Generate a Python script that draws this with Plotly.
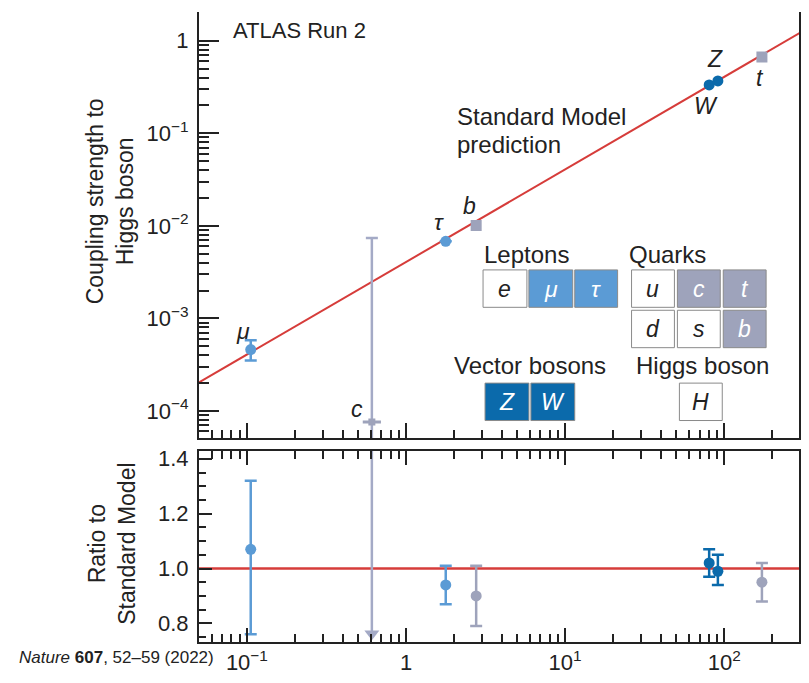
import plotly.graph_objects as go
import numpy as np

# ---------------- data ----------------
lepton_names = ["μ", "τ"]
lepton_mass = [0.1057, 1.777]
lepton_coupling = [4.6e-4, 6.8e-3]
lepton_coupling_up = [1.2e-4, 0.0]
lepton_coupling_dn = [1.1e-4, 0.0]
lepton_ratio = [1.07, 0.94]
lepton_ratio_up = [0.25, 0.07]
lepton_ratio_dn = [0.31, 0.07]

quark_names = ["b", "t"]
quark_mass = [2.76, 172.5]
quark_coupling = [1.01e-2, 0.665]
quark_ratio = [0.90, 0.95]
quark_ratio_up = [0.11, 0.07]
quark_ratio_dn = [0.11, 0.07]

charm_mass = [0.61]
charm_coupling = [7.6e-5]
charm_coupling_upper = [7.4e-3]
charm_coupling_lower = [1e-6]      # off scale
charm_ratio_top = [1.6]            # off scale
charm_ratio_arrow = [0.762]

boson_names = ["W", "Z"]
boson_mass = [80.4, 91.19]
boson_coupling = [0.333, 0.368]
boson_ratio = [1.02, 0.99]
boson_ratio_up = [0.05, 0.06]
boson_ratio_dn = [0.05, 0.05]

sm_mass = [0.05, 300.0]
vev = 246.0

x_tickvals = [0.1, 1, 10, 100]
x_ticktext = ["10<sup>−1</sup>", "1", "10<sup>1</sup>", "10<sup>2</sup>"]
y_tickvals = [1e-4, 1e-3, 1e-2, 1e-1, 1]
y_ticktext = ["10<sup>−4</sup>", "10<sup>−3</sup>", "10<sup>−2</sup>", "10<sup>−1</sup>", "1"]
r_tickvals = [0.8, 1.0, 1.2, 1.4]
r_ticktext = ["0.8", "1.0", "1.2", "1.4"]

# ---------------- styles ----------------
C_LIGHT = "#5b9bd5"
C_DARK = "#0b6aab"
C_GREY = "#9ea3bb"
C_CLINE = "#a4aac6"
C_RED = "#d63c3a"
C_AX = "#222222"
FONT = "Liberation Sans"

W, H = 809, 683
ML, MR, MT, MB = 199, 8, 8, 35
PW, PH = W - ML - MR, H - MT - MB


def px(x):
    return (x - ML) / PW


def py(y):
    return (H - MB - y) / PH


fig = go.Figure()

# SM line (top)
sm_coupling = [m / vev for m in sm_mass]
fig.add_trace(go.Scatter(x=sm_mass, y=sm_coupling, mode="lines",
                         line=dict(color=C_RED, width=2), xaxis="x", yaxis="y",
                         hoverinfo="skip"))

# charm (top)
fig.add_trace(go.Scatter(
    x=charm_mass, y=charm_coupling, mode="markers",
    marker=dict(symbol="square", size=7, color=C_GREY),
    error_y=dict(type="data", symmetric=False,
                 array=[charm_coupling_upper[0] - charm_coupling[0]],
                 arrayminus=[charm_coupling[0] - charm_coupling_lower[0]],
                 color=C_CLINE, thickness=2.5, width=6),
    xaxis="x", yaxis="y"))
fig.add_trace(go.Scatter(
    x=charm_mass, y=charm_coupling, mode="markers",
    marker=dict(symbol="line-ew", size=13, line=dict(color=C_GREY, width=3)),
    xaxis="x", yaxis="y"))

# leptons (top)
fig.add_trace(go.Scatter(
    x=lepton_mass, y=lepton_coupling, mode="markers",
    marker=dict(symbol="circle", size=11, color=C_LIGHT),
    error_y=dict(type="data", symmetric=False, array=lepton_coupling_up,
                 arrayminus=lepton_coupling_dn, color=C_LIGHT, thickness=2.5, width=6),
    xaxis="x", yaxis="y"))
# quarks (top)
fig.add_trace(go.Scatter(
    x=quark_mass, y=quark_coupling, mode="markers",
    marker=dict(symbol="square", size=11, color=C_GREY),
    xaxis="x", yaxis="y"))
# bosons (top)
fig.add_trace(go.Scatter(
    x=boson_mass, y=boson_coupling, mode="markers",
    marker=dict(symbol="circle", size=11, color=C_DARK),
    xaxis="x", yaxis="y"))

# ---------------- ratio panel ----------------
fig.add_trace(go.Scatter(
    x=charm_mass * 2, y=[charm_ratio_top[0], charm_ratio_arrow[0]], mode="lines",
    line=dict(color=C_CLINE, width=2.5), xaxis="x2", yaxis="y2"))
fig.add_trace(go.Scatter(
    x=charm_mass, y=charm_ratio_arrow, mode="markers",
    marker=dict(symbol="triangle-down", size=13, color=C_CLINE),
    xaxis="x2", yaxis="y2", cliponaxis=False))
fig.add_trace(go.Scatter(
    x=lepton_mass, y=lepton_ratio, mode="markers",
    marker=dict(symbol="circle", size=11, color=C_LIGHT),
    error_y=dict(type="data", symmetric=False, array=lepton_ratio_up,
                 arrayminus=lepton_ratio_dn, color=C_LIGHT, thickness=2.5, width=6),
    xaxis="x2", yaxis="y2"))
fig.add_trace(go.Scatter(
    x=quark_mass, y=quark_ratio, mode="markers",
    marker=dict(symbol="circle", size=11, color=C_GREY),
    error_y=dict(type="data", symmetric=False, array=quark_ratio_up,
                 arrayminus=quark_ratio_dn, color=C_GREY, thickness=2.5, width=6),
    xaxis="x2", yaxis="y2"))
fig.add_trace(go.Scatter(
    x=boson_mass, y=boson_ratio, mode="markers",
    marker=dict(symbol="circle", size=11, color=C_DARK),
    error_y=dict(type="data", symmetric=False, array=boson_ratio_up,
                 arrayminus=boson_ratio_dn, color=C_DARK, thickness=2.5, width=6),
    xaxis="x2", yaxis="y2"))

# ---------------- axes ----------------
xminor = [d * 10.0 ** e for e in range(-2, 3) for d in range(2, 10)]
yminor = [d * 10.0 ** e for e in range(-5, 1) for d in range(2, 10)]
rminor = [0.75, 0.85, 0.9, 0.95, 1.05, 1.1, 1.15, 1.25, 1.3, 1.35]

xrange_log = [np.log10(0.05), np.log10(295)]
yr_top = 0.3234

tickfont = dict(family=FONT, size=22, color=C_AX)
common_x = dict(type="log", range=xrange_log, showgrid=False, zeroline=False,
                showline=True, linecolor=C_AX, linewidth=2,
                tickmode="array", tickvals=x_tickvals, ticktext=x_ticktext,
                ticks="inside", ticklen=15, tickwidth=1.5, tickcolor=C_AX,
                minor=dict(tickmode="array", tickvals=xminor, ticks="inside",
                           ticklen=8, tickwidth=1.5, tickcolor=C_AX, showgrid=False),
                tickfont=tickfont)

fig.update_layout(
    width=W, height=H,
    margin=dict(l=ML, r=MR, t=MT, b=MB),
    paper_bgcolor="white", plot_bgcolor="white",
    showlegend=False,
    font=dict(family=FONT, color=C_AX),
    xaxis=dict(common_x, anchor="y", showticklabels=False),
    yaxis=dict(type="log", domain=[yr_top, 1], range=[-4.295, 0.31],
               anchor="x", showgrid=False, zeroline=False,
               showline=True, linecolor=C_AX, linewidth=2, mirror=True,
               tickmode="array", tickvals=y_tickvals, ticktext=y_ticktext,
               ticks="inside", ticklen=20, tickwidth=1.5, tickcolor=C_AX,
               minor=dict(tickmode="array", tickvals=yminor, ticks="inside",
                          ticklen=10, tickwidth=1.5, tickcolor=C_AX, showgrid=False),
               tickfont=tickfont, ticklabelstandoff=4),
    xaxis2=dict(common_x, anchor="y2", mirror="ticks", ticklen=14),
    yaxis2=dict(domain=[0, 0.303], range=[0.732, 1.428], anchor="x2",
                showgrid=False, zeroline=False,
                showline=True, linecolor=C_AX, linewidth=2, mirror=True,
                tickmode="array", tickvals=r_tickvals, ticktext=r_ticktext,
                ticks="inside", ticklen=13, tickwidth=1.5, tickcolor=C_AX,
                minor=dict(tickmode="array", tickvals=rminor, ticks="inside",
                           ticklen=7, tickwidth=1.5, tickcolor=C_AX, showgrid=False),
                tickfont=tickfont, ticklabelstandoff=4),
)

# SM line in ratio panel
fig.add_shape(type="line", xref="x2 domain", yref="y2", x0=0, x1=1, y0=1, y1=1,
              line=dict(color=C_RED, width=2.5), layer="below")

ann = []


def text(x, y, s, size=20, anchor="left", color=C_AX, angle=0, yanchor="middle"):
    ann.append(dict(x=px(x), y=py(y), xref="paper", yref="paper", text=s,
                    showarrow=False, xanchor=anchor, yanchor=yanchor, textangle=angle,
                    font=dict(family=FONT, size=size, color=color)))


text(231, 27, "ATLAS Run 2", 22)
text(456, 114, "Standard Model", 24)
text(456, 143, "prediction", 24)

# particle labels
text(243, 332, "<i>μ</i>", 23, "center")
text(358, 411, "<i>c</i>", 23, "center")
text(440, 221, "<i>τ</i>", 23, "center")
text(470, 205, "<i>b</i>", 23, "center")
text(717, 56, "<i>Z</i>", 23, "center")
text(708, 103, "<i>W</i>", 23, "center")
text(762, 75, "<i>t</i>", 23, "center")

# legend group titles
text(483, 254, "Leptons", 24)
text(628, 254, "Quarks", 24)
text(453, 367, "Vector bosons", 24)
text(635, 367, "Higgs boson", 24)

# legend boxes: (x0, y0, x1, y1, fill, label, text colour)
boxes = [
    (484, 270, 528, 308, "white", "e", C_AX),
    (530, 270, 574, 308, C_LIGHT, "μ", "white"),
    (576, 270, 619, 308, C_LIGHT, "τ", "white"),
    (633, 270, 676, 308, "white", "u", C_AX),
    (679, 270, 722, 308, C_GREY, "c", "white"),
    (725, 270, 768, 308, C_GREY, "t", "white"),
    (633, 311, 676, 349, "white", "d", C_AX),
    (679, 311, 722, 349, "white", "s", C_AX),
    (725, 311, 768, 349, C_GREY, "b", "white"),
    (486, 385, 530, 423, C_DARK, "Z", "white"),
    (532, 385, 576, 423, C_DARK, "W", "white"),
    (681, 385, 724, 423, "white", "H", C_AX),
]
for x0, y0, x1, y1, fill, lab, tc in boxes:
    fig.add_shape(type="rect", xref="paper", yref="paper",
                  x0=px(x0), x1=px(x1), y0=py(y1), y1=py(y0),
                  fillcolor=fill, line=dict(color="#8a8a8a", width=1))
    text((x0 + x1) / 2, (y0 + y1) / 2, "<i>" + lab + "</i>", 23, "center", tc)

# axis titles
text(110, 200, "Coupling strength to<br>Higgs boson", 23, "center", angle=-90)
text(111, 548, "Ratio to<br>Standard Model", 23, "center", angle=-90)

# citation
text(16, 664, "<i>Nature</i> <b>607</b>, 52–59 (2022)", 17)

fig.update_layout(annotations=ann)
fig.write_html("out.html")
